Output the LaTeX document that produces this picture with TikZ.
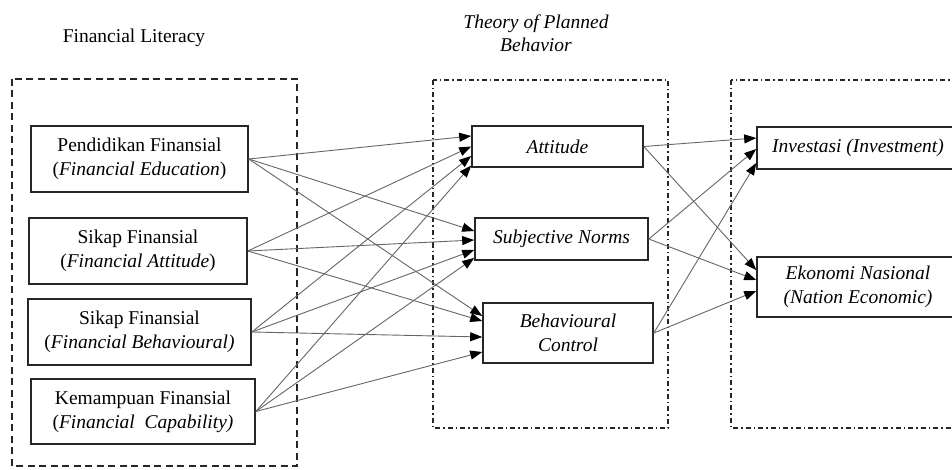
\documentclass[tikz,border=0pt]{standalone}
\usepackage{fontspec}
\setmainfont{Liberation Serif}
\usetikzlibrary{arrows.meta}
\tikzset{
  box/.style={draw=black!85, line width=1.6pt, align=center, inner sep=2pt,
    font=\fontsize{19.5}{24}\selectfont},
  lbl/.style={align=center, font=\fontsize{19.5}{23}\selectfont},
  grpdash/.style={draw=black!85, line width=1.8pt, dash pattern=on 7pt off 4.5pt},
  grpdot/.style={draw=black!85, line width=1.7pt, dash pattern=on 5pt off 3pt on 1.5pt off 3pt},
  conn/.style={draw=black!60, line width=0.9pt, -{Triangle[length=12pt,width=9pt,fill=black,color=black]}}
}
\begin{document}
\begin{tikzpicture}[x=1pt,y=-1pt]
\useasboundingbox (0,0) rectangle (952,470);
\clip (0,0) rectangle (952,470);
\fill[white] (0,0) rectangle (952,470);

% group frames
\draw[grpdash] (12,79) rectangle (297,466);
\draw[grpdot] (433,80) rectangle (668,428);
\draw[grpdot] (731,80) rectangle (965,428);

% titles
\node[lbl] (tfl) at (134,38) {Financial Literacy};
\node[lbl] (ttpb) at (536,33) {\textit{Theory of Planned}\\\textit{Behavior}};

% left boxes
\node[box, minimum width=217pt, minimum height=66pt] (p1) at (139.5,159) {Pendidikan Finansial\\(\textit{Financial Education})};
\node[box, minimum width=218pt, minimum height=66pt] (p2) at (138,251) {Sikap Finansial\\(\textit{Financial Attitude})};
\node[box, minimum width=223pt, minimum height=66pt] (p3) at (139.5,332) {Sikap Finansial\\(\textit{Financial Behavioural)}};
\node[box, minimum width=224pt, minimum height=65pt] (p4) at (143,411.5) {Kemampuan Finansial\\(\textit{Financial\ \ Capability)}};

% middle boxes
\node[box, minimum width=171pt, minimum height=41pt] (att) at (557.5,146.5) {\textit{Attitude}};
\node[box, minimum width=173pt, minimum height=42pt] (sn) at (561.5,239) {\textit{Subjective Norms}};
\node[box, minimum width=170pt, minimum height=60pt] (bc) at (568,333) {\textit{Behavioural}\\\textit{Control}};

% right boxes (cut off by the right edge)
\node[box, minimum width=202pt, minimum height=42pt] (inv) at (858,148) {\textit{Investasi (Investment)}};
\node[box, minimum width=202pt, minimum height=60pt] (eko) at (858,287) {\textit{Ekonomi Nasional}\\\textit{(Nation Economic)}};

% left -> middle
\draw[conn] (p1.east) -- ([yshift=10.5pt]att.west);
\draw[conn] (p2.east) -- ([yshift=0pt]att.west);
\draw[conn] (p3.east) -- ([yshift=-9.5pt]att.west);
\draw[conn] (p4.east) -- ([yshift=-19pt]att.west);

\draw[conn] (p1.east) -- ([yshift=8pt]sn.west);
\draw[conn] (p2.east) -- ([yshift=-1pt]sn.west);
\draw[conn] (p3.east) -- ([yshift=-11pt]sn.west);
\draw[conn] (p4.east) -- ([yshift=-19pt]sn.west);

\draw[conn] (p1.east) -- ([yshift=17pt]bc.west);
\draw[conn] (p2.east) -- ([yshift=12pt]bc.west);
\draw[conn] (p3.east) -- ([yshift=-4pt]bc.west);
\draw[conn] (p4.east) -- ([yshift=-19pt]bc.west);

% middle -> right
\draw[conn] (att.east) -- ([yshift=10pt]inv.west);
\draw[conn] (att.east) -- ([yshift=17pt]eko.west);
\draw[conn] (sn.east) -- ([yshift=-1pt]inv.west);
\draw[conn] (sn.east) -- ([yshift=7pt]eko.west);
\draw[conn] (bc.east) -- ([yshift=-15pt]inv.west);
\draw[conn] (bc.east) -- ([yshift=-4pt]eko.west);
\end{tikzpicture}
\end{document}
